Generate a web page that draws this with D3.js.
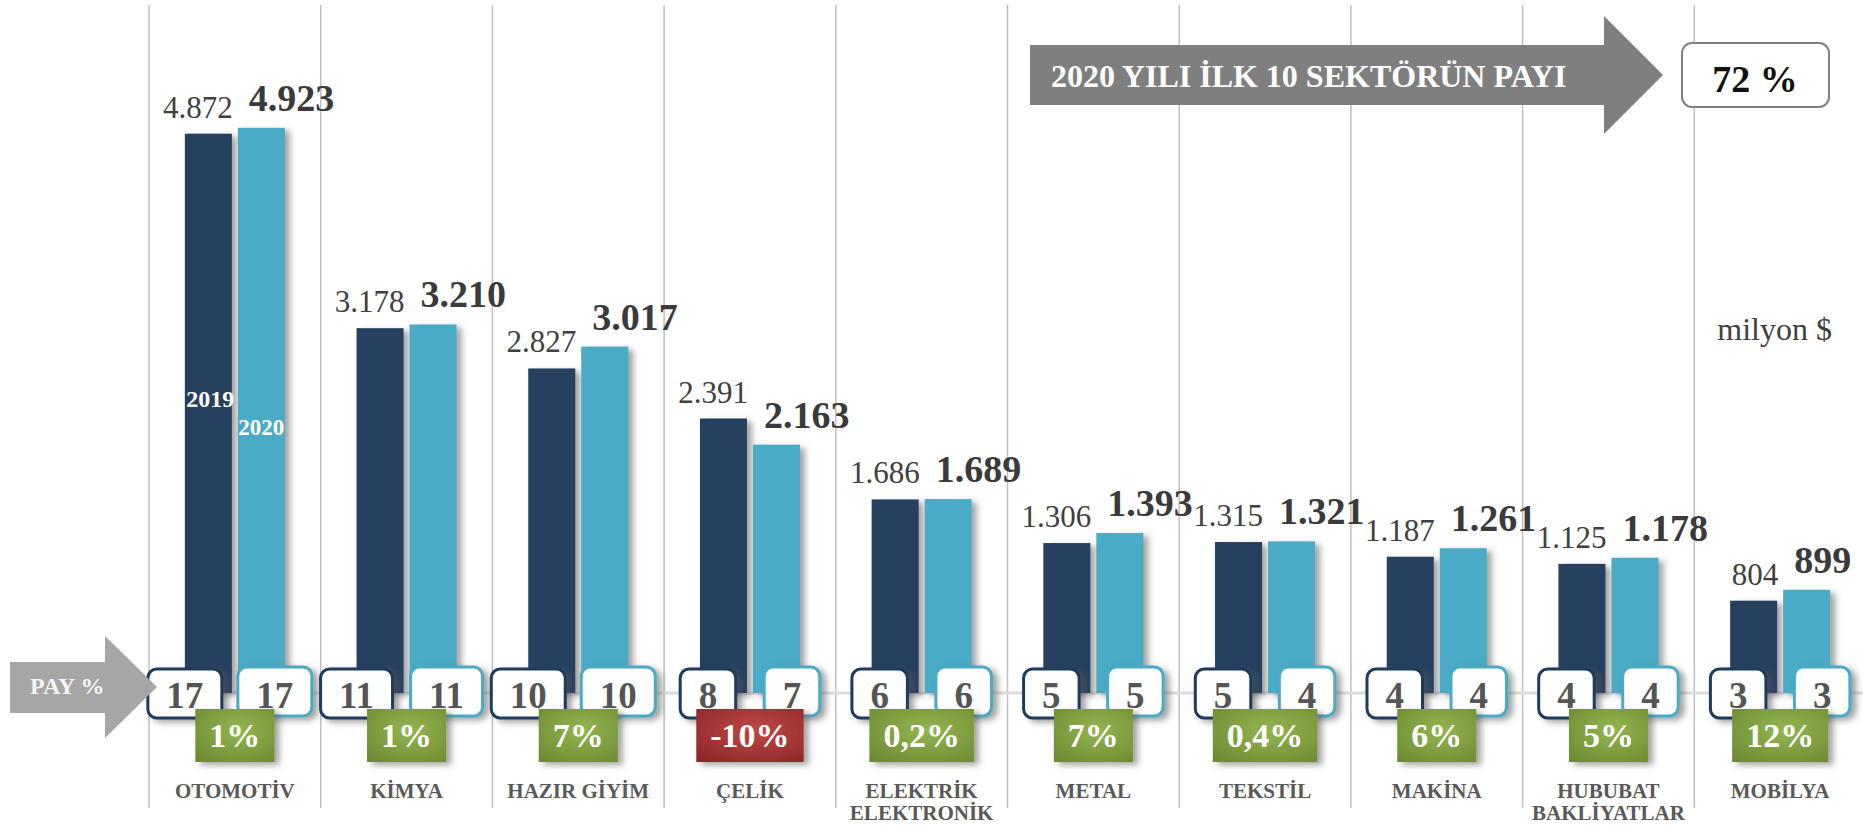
<!DOCTYPE html>
<html>
<head>
<meta charset="utf-8">
<script src="https://cdn.jsdelivr.net/npm/d3@7"></script>
<style>
  html, body { margin: 0; padding: 0; background: #ffffff; }
  svg { display: block; font-family: "Liberation Serif", "Times New Roman", serif; }
</style>
</head>
<body>
<svg id="chart" width="1863" height="827"></svg>
<script>
// Sector export values, million $
const categories = [
  ["OTOMOTİV"], ["KİMYA"], ["HAZIR GİYİM"], ["ÇELİK"], ["ELEKTRİK", "ELEKTRONİK"],
  ["METAL"], ["TEKSTİL"], ["MAKİNA"], ["HUBUBAT", "BAKLİYATLAR"], ["MOBİLYA"]
];
const years = ["2019", "2020"];
const values2019 = [4872, 3178, 2827, 2391, 1686, 1306, 1315, 1187, 1125, 804];
const values2020 = [4923, 3210, 3017, 2163, 1689, 1393, 1321, 1261, 1178, 899];
const share2019 = [17, 11, 10, 8, 6, 5, 5, 4, 4, 3];
const share2020 = [17, 11, 10, 7, 6, 5, 4, 4, 4, 3];
const changeLabels = ["1%", "1%", "7%", "-10%", "0,2%", "7%", "0,4%", "6%", "5%", "12%"];
const changeValues = [1, 1, 7, -10, 0.2, 7, 0.4, 6, 5, 12];
const totalShareLabel = "72 %";
const totalShareTitle = "2020 YILI İLK 10 SEKTÖRÜN PAYI";
const unitLabel = "milyon $";
const payLabel = "PAY %";

const fmt = v => d3.format(",")(v).replace(/,/g, ".");

const svg = d3.select("#chart");
const defs = svg.append("defs");

// soft shadow used by bars and boxes
const sh = defs.append("filter").attr("id", "shadow")
  .attr("x", "-20%").attr("y", "-20%").attr("width", "150%").attr("height", "150%");
sh.append("feDropShadow").attr("dx", 5).attr("dy", 3).attr("stdDeviation", 3)
  .attr("flood-color", "#555").attr("flood-opacity", 0.55);

const gGreen = defs.append("radialGradient").attr("id", "gGreen").attr("cx", "55%").attr("cy", "40%").attr("r", "75%");
gGreen.append("stop").attr("offset", "0%").attr("stop-color", "#93b650");
gGreen.append("stop").attr("offset", "100%").attr("stop-color", "#6d8b32");
const gRed = defs.append("radialGradient").attr("id", "gRed").attr("cx", "55%").attr("cy", "40%").attr("r", "75%");
gRed.append("stop").attr("offset", "0%").attr("stop-color", "#c04848");
gRed.append("stop").attr("offset", "100%").attr("stop-color", "#8c2727");

const colors = { "2019": "#253f60", "2020": "#4aabc6" };

const x0 = d3.scaleBand().domain(d3.range(categories.length)).range([149, 149 + 171.7 * 10]).padding(0);
const bw = x0.bandwidth();
const x1 = d3.scaleBand().domain(years).range([bw / 2 - 50, bw / 2 + 50]).paddingInner(0.113);
const y = d3.scaleLinear().domain([0, 5000]).range([693, 119]);

// vertical separators between sectors
svg.append("g").selectAll("line").data(d3.range(categories.length)).join("line")
  .attr("x1", d => x0(d)).attr("x2", d => x0(d))
  .attr("y1", 5).attr("y2", 808)
  .attr("stroke", "#bfbfbf").attr("stroke-width", 1.5);

// baseline
svg.append("line").attr("x1", 149).attr("x2", 1863).attr("y1", y(0)).attr("y2", y(0))
  .attr("stroke", "#dcdcdc").attr("stroke-width", 3);

const rows = categories.map((c, i) => ({
  i, name: c,
  vals: [{ year: "2019", v: values2019[i], share: share2019[i] }, { year: "2020", v: values2020[i], share: share2020[i] }],
  change: changeValues[i], changeLabel: changeLabels[i]
}));

const groups = svg.append("g").selectAll("g").data(rows).join("g")
  .attr("transform", d => `translate(${x0(d.i)},0)`);

// bars
groups.selectAll("rect.bar").data(d => d.vals).join("rect").attr("class", "bar")
  .attr("x", d => x1(d.year)).attr("width", x1.bandwidth())
  .attr("y", d => y(d.v)).attr("height", d => y(0) - y(d.v))
  .attr("fill", d => colors[d.year]).attr("filter", "url(#shadow)");

// value labels
groups.append("text")
  .attr("x", x1("2019") + x1.bandwidth() + 1).attr("y", d => y(d.vals[0].v) - 16)
  .attr("text-anchor", "end").attr("font-size", 31).attr("fill", "#404040")
  .text(d => fmt(d.vals[0].v));
groups.append("text")
  .attr("x", x1("2020") + 11).attr("y", d => y(d.vals[1].v) - 17)
  .attr("text-anchor", "start").attr("font-size", 38).attr("font-weight", "bold").attr("fill", "#3a3a3a")
  .text(d => fmt(d.vals[1].v));

// year labels inside the first pair of bars
const first = groups.filter(d => d.i === 0);
first.append("text").attr("x", x1("2019") + x1.bandwidth() / 2 + 2).attr("y", 407)
  .attr("text-anchor", "middle").attr("font-size", 24).attr("font-weight", "bold").attr("fill", "#ffffff")
  .text(years[0]);
first.append("text").attr("x", x1("2020") + x1.bandwidth() / 2).attr("y", 435)
  .attr("text-anchor", "middle").attr("font-size", 23).attr("font-weight", "bold").attr("fill", "#ffffff")
  .text(years[1]);

// share boxes
const boxBorder = { "2019": "#1f3a5e", "2020": "#4aabc6" };
groups.each(function (d) {
  const g = d3.select(this);
  d.vals.forEach((v, k) => {
    const wide = String(v.share).length > 1;
    const cx = bw / 2 + (k === 0 ? (wide ? -50 : -42) : (wide ? 40 : 42));
    const t = g.append("text").attr("font-size", 37).attr("font-weight", "bold").text(v.share);
    const w = t.node().getComputedTextLength() + 37;
    t.remove();
    const top = k === 0 ? 669 : 667;
    g.append("rect").attr("x", cx - w / 2).attr("y", top).attr("width", w).attr("height", 49)
      .attr("rx", 9).attr("ry", 9).attr("fill", "#ffffff")
      .attr("stroke", boxBorder[v.year]).attr("stroke-width", 3).attr("filter", "url(#shadow)");
    g.append("text").attr("x", cx).attr("y", 708)
      .attr("text-anchor", "middle").attr("font-size", 37).attr("font-weight", "bold").attr("fill", "#555555")
      .text(v.share);
  });
});

// change boxes
groups.each(function (d) {
  const g = d3.select(this);
  const t = g.append("text").attr("font-size", 34).attr("font-weight", "bold").text(d.changeLabel);
  const w = t.node().getComputedTextLength() + 28;
  t.remove();
  g.append("rect").attr("x", bw / 2 - w / 2).attr("y", 709).attr("width", w).attr("height", 53)
    .attr("fill", d.change < 0 ? "url(#gRed)" : "url(#gGreen)").attr("filter", "url(#shadow)");
  g.append("text").attr("x", bw / 2).attr("y", 747)
    .attr("text-anchor", "middle").attr("font-size", 34).attr("font-weight", "bold").attr("fill", "#ffffff")
    .text(d.changeLabel);
});

// sector names
groups.append("text")
  .attr("text-anchor", "middle").attr("font-size", 21).attr("font-weight", "bold").attr("fill", "#595959")
  .selectAll("tspan").data(d => d.name).join("tspan")
  .attr("x", bw / 2).attr("y", (d, j) => 798 + j * 22).text(d => d);

// PAY % arrow
svg.append("path")
  .attr("d", "M10,662 L105,662 L105,636 L157,687 L105,738 L105,713 L10,713 Z")
  .attr("fill", "#a6a6a6");
svg.append("text").attr("x", 30).attr("y", 694).attr("font-size", 24).attr("font-weight", "bold")
  .attr("fill", "#f5f5f5").text(payLabel);

// headline arrow
svg.append("path")
  .attr("d", "M1030,45 L1604,45 L1604,16 L1663,75 L1604,134 L1604,105 L1030,105 Z")
  .attr("fill", "#7f7f7f");
svg.append("text").attr("x", 1051).attr("y", 87).attr("font-size", 32).attr("font-weight", "bold")
  .attr("fill", "#ffffff").text(totalShareTitle);

svg.append("rect").attr("x", 1682).attr("y", 43).attr("width", 147).attr("height", 64)
  .attr("rx", 10).attr("ry", 10).attr("fill", "#ffffff").attr("stroke", "#808080").attr("stroke-width", 2);
svg.append("text").attr("x", 1755).attr("y", 92).attr("text-anchor", "middle")
  .attr("font-size", 38).attr("font-weight", "bold").attr("fill", "#111111").text(totalShareLabel);

svg.append("text").attr("x", 1832).attr("y", 340).attr("text-anchor", "end")
  .attr("font-size", 32).attr("fill", "#404040").text(unitLabel);
</script>
</body>
</html>
